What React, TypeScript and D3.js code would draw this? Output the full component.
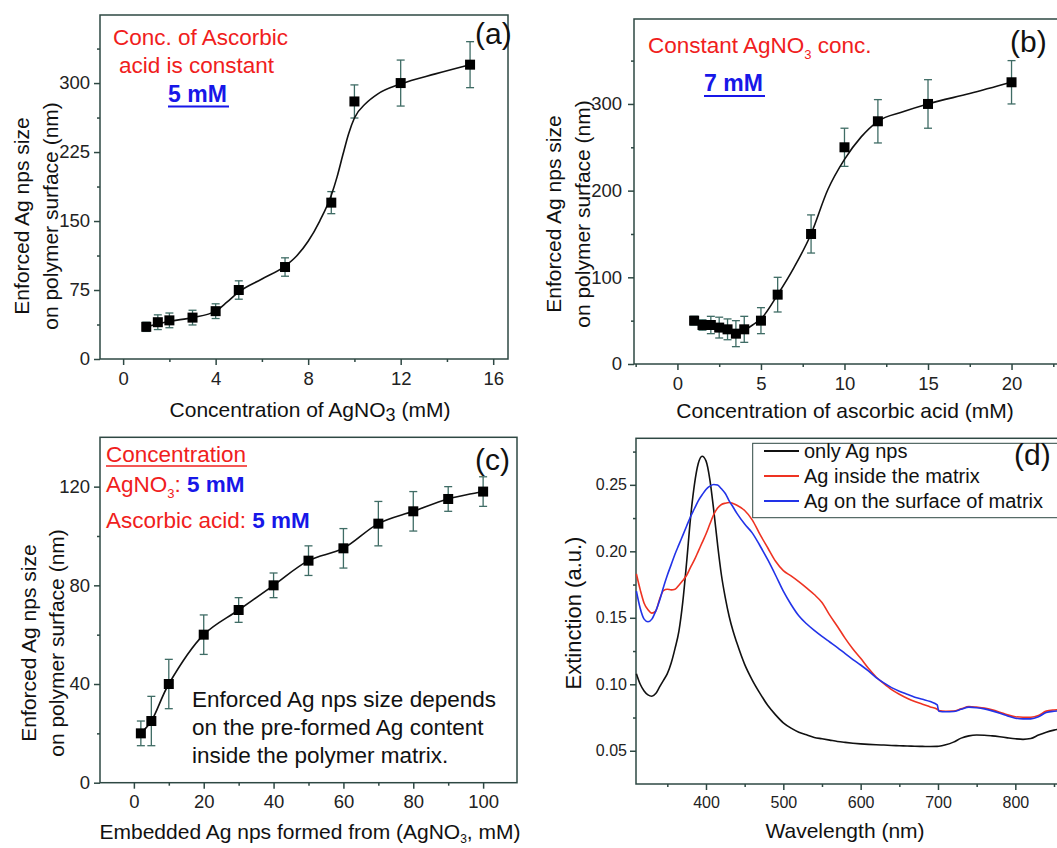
import React, { useRef, useEffect } from "react";
import * as d3 from "d3";

// (a) size vs AgNO3 concentration, ascorbic acid fixed
const agConc = [1, 1.5, 2, 3, 4, 5, 7, 9, 10, 12, 15];
const agSize = [35, 40, 42, 45, 52, 75, 100, 170, 280, 300, 320];
const agErr = [5, 8, 8, 8, 8, 10, 10, 12, 18, 25, 25];
const agFitX = [1, 2, 3, 4, 4.5, 5, 6, 7, 7.5, 8, 8.5, 9, 9.25, 9.5, 9.75, 10, 10.5, 11, 12, 13.5, 15];
const agFitY = [35, 41, 45, 52, 62, 73, 87, 101, 112, 128, 150, 178, 198, 222, 245, 262, 278, 288, 299, 310, 320];

// (b) size vs ascorbic acid concentration, AgNO3 fixed
const ascConc = [1, 1.5, 2, 2.5, 3, 3.5, 4, 5, 6, 8, 10, 12, 15, 20];
const ascSize = [50, 45, 45, 42, 40, 35, 40, 50, 80, 150, 250, 280, 300, 325];
const ascErr = [5, 6, 10, 12, 12, 15, 15, 15, 20, 22, 22, 25, 28, 25];
const ascFitX = [1, 2, 3, 3.5, 4, 4.5, 5, 6, 7, 8, 9, 10, 11, 12, 13.5, 15, 17.5, 20];
const ascFitY = [50, 45, 40, 37, 39, 45, 52, 80, 112, 150, 201, 236, 262, 280, 291, 300, 312, 325];

// (c) size vs embedded Ag content
const embConc = [2, 5, 10, 20, 30, 40, 50, 60, 70, 80, 90, 100];
const embSize = [20, 25, 40, 60, 70, 80, 90, 95, 105, 110, 115, 118];
const embErr = [5, 10, 10, 8, 5, 5, 6, 8, 9, 8, 5, 6];

// (d) extinction spectra
const wavelength = [310, 315, 320, 325, 330, 335, 340, 345, 350, 355, 360, 365, 370, 375, 380, 385, 390, 395, 400, 405, 410, 415, 420, 425, 430, 435, 440,
  450, 460, 470, 480, 490, 500, 510, 520, 530, 540, 550, 560, 570, 580, 590, 600, 610, 620, 630, 640, 650, 660, 670, 680, 690,
  699, 701, 710, 720, 730, 740, 750, 760, 770, 780, 790, 800, 810, 820, 830, 840, 850, 860, 870];
const extOnlyAg = [0.108, 0.100, 0.095, 0.092, 0.091, 0.093, 0.098, 0.103, 0.108, 0.116, 0.127, 0.140, 0.162, 0.192, 0.225, 0.250, 0.266, 0.2715, 0.268, 0.254, 0.231, 0.205, 0.182, 0.165, 0.151, 0.140, 0.131,
  0.115, 0.103, 0.093, 0.084, 0.077, 0.071, 0.067, 0.064, 0.062, 0.060, 0.059, 0.058, 0.057, 0.0563, 0.0557, 0.0552, 0.0548, 0.0545, 0.0543, 0.054, 0.0538, 0.0536, 0.0534, 0.0533, 0.0532,
  0.0533, 0.0534, 0.0545, 0.0565, 0.0595, 0.0612, 0.0618, 0.0617, 0.0612, 0.0605, 0.0597, 0.059, 0.0586, 0.0592, 0.0618, 0.064, 0.0655, 0.0665, 0.067];
const extInside = [0.183, 0.171, 0.161, 0.156, 0.1535, 0.155, 0.164, 0.1705, 0.1715, 0.171, 0.1715, 0.1745, 0.178, 0.182, 0.188, 0.1935, 0.200, 0.2065, 0.213, 0.2205, 0.2277, 0.2325, 0.2352, 0.2362, 0.2367, 0.236, 0.2347,
  0.2307, 0.2235, 0.2125, 0.2025, 0.1925, 0.1855, 0.1815, 0.1772, 0.1725, 0.1675, 0.1615, 0.152, 0.1435, 0.1345, 0.1265, 0.1195, 0.112, 0.1055, 0.1005, 0.096, 0.0925, 0.0895, 0.087, 0.085, 0.083,
  0.0812, 0.0803, 0.0797, 0.0798, 0.0815, 0.0833, 0.0828, 0.0821, 0.0808, 0.079, 0.077, 0.0756, 0.0752, 0.0752, 0.0765, 0.0798, 0.0807, 0.081, 0.081];
const extSurface = [0.170, 0.157, 0.149, 0.147, 0.149, 0.155, 0.163, 0.173, 0.182, 0.190, 0.198, 0.205, 0.212, 0.219, 0.226, 0.232, 0.238, 0.2425, 0.2465, 0.249, 0.2503, 0.2498, 0.247, 0.2435, 0.238, 0.2333, 0.2285,
  0.2205, 0.2137, 0.204, 0.1935, 0.182, 0.170, 0.160, 0.1515, 0.1455, 0.1405, 0.136, 0.1318, 0.1276, 0.123, 0.1186, 0.1145, 0.110, 0.105, 0.101, 0.0975, 0.0948, 0.0925, 0.0903, 0.0887, 0.087,
  0.0845, 0.0797, 0.0793, 0.0795, 0.0812, 0.0828, 0.0824, 0.0815, 0.080, 0.0782, 0.0762, 0.0745, 0.074, 0.074, 0.0755, 0.0788, 0.0797, 0.080, 0.080];
const legendNames = ["only Ag nps", "Ag inside the matrix", "Ag on the surface of matrix"];
const legendColors = ["#111111", "#ee3322", "#2233e8"];

const FONT = "'Liberation Sans', Arial, Helvetica, sans-serif";
const FRAME = "#2e4843";
const ERR = "#3f6c65";
const RED = "#f0201c";
const BLUE = "#1717e8";

function axes(g, x, y, o) {
  const yb = y.range()[0];
  const bot = g.append("g").attr("transform", `translate(0,${yb})`);
  bot.append("g").call(d3.axisBottom(x).tickValues(o.xMinor).tickSize(3).tickFormat(() => ""));
  bot.append("g").call(d3.axisBottom(x).tickValues(o.xMajor).tickSize(6).tickPadding(o.xPad).tickFormat(o.xFmt));
  const xl = x.range()[0];
  const left = g.append("g").attr("transform", `translate(${xl},0)`);
  left.append("g").call(d3.axisLeft(y).tickValues(o.yMinor).tickSize(3).tickFormat(() => ""));
  left.append("g").call(d3.axisLeft(y).tickValues(o.yMajor).tickSize(6).tickPadding(o.yPad).tickFormat(o.yFmt));
  g.selectAll(".domain").remove();
  g.selectAll(".tick line").attr("stroke", FRAME).attr("stroke-width", 1.5);
  g.selectAll(".tick text").attr("font-size", o.fs).attr("font-family", FONT).attr("fill", "#222");
  const [x0, x1] = x.range();
  const [y0, y1] = y.range();
  g.append("rect").attr("x", x0).attr("y", y1).attr("width", x1 - x0).attr("height", y0 - y1)
    .attr("fill", "none").attr("stroke", FRAME).attr("stroke-width", 1.5);
}

function points(g, x, y, xs, ys, errs, fitX, fitY) {
  const eb = g.append("g").attr("stroke", ERR).attr("stroke-width", 1.3);
  xs.forEach((v, i) => {
    const cx = x(v), top = y(ys[i] + errs[i]), bot = y(ys[i] - errs[i]);
    eb.append("line").attr("x1", cx).attr("x2", cx).attr("y1", top).attr("y2", bot);
    eb.append("line").attr("x1", cx - 4).attr("x2", cx + 4).attr("y1", top).attr("y2", top);
    eb.append("line").attr("x1", cx - 4).attr("x2", cx + 4).attr("y1", bot).attr("y2", bot);
  });
  const line = d3.line().x(d => x(d[0])).y(d => y(d[1])).curve(fitX ? d3.curveMonotoneX : d3.curveCatmullRom);
  const cx = fitX || xs;
  const cy = fitY || ys;
  g.append("path").datum(cx.map((v, i) => [v, cy[i]])).attr("d", line)
    .attr("fill", "none").attr("stroke", "#111").attr("stroke-width", 1.6);
  g.append("g").selectAll("rect").data(xs).join("rect")
    .attr("x", d => x(d) - 5).attr("y", (d, i) => y(ys[i]) - 5)
    .attr("width", 10).attr("height", 10).attr("fill", "#000");
}

function txt(g, x, y, size, opts = {}) {
  return g.append("text").attr("x", x).attr("y", y).attr("font-size", size)
    .attr("font-family", FONT).attr("fill", opts.fill || "#111")
    .attr("text-anchor", opts.anchor || "start")
    .attr("transform", opts.rot ? `rotate(-90,${x},${y})` : null);
}

const App = () => {
  const svgRef = useRef(null);
  useEffect(() => {
    const svg = d3.select(svgRef.current);
    svg.selectAll("*").remove();
    const fmtInt = d3.format("d");

    // ---------- (a)
    const ga = svg.append("g");
    const xa = d3.scaleLinear().domain([-1, 16.64]).range([100, 508]);
    const ya = d3.scaleLinear().domain([0, 374]).range([359, 15]);
    axes(ga, xa, ya, {
      xMajor: [0, 4, 8, 12, 16], xMinor: [2, 6, 10, 14], xPad: 7, xFmt: fmtInt,
      yMajor: [0, 75, 150, 225, 300], yMinor: [37.5, 112.5, 187.5, 262.5, 337.5], yPad: 4, yFmt: fmtInt, fs: 18.5,
    });
    points(ga, xa, ya, agConc, agSize, agErr, agFitX, agFitY);
    txt(ga, 113, 45, 22.5, { fill: RED }).text("Conc. of Ascorbic");
    txt(ga, 119, 73, 22.5, { fill: RED }).text("acid is constant");
    txt(ga, 168, 102, 23, { fill: BLUE }).attr("font-weight", "bold").text("5 mM");
    ga.append("line").attr("x1", 168).attr("x2", 229).attr("y1", 106.5).attr("y2", 106.5).attr("stroke", BLUE).attr("stroke-width", 2);
    txt(ga, 475, 44, 30).text("(a)");
    txt(ga, 29, 216, 21, { anchor: "middle", rot: true }).text("Enforced Ag nps size");
    txt(ga, 58, 216, 21, { anchor: "middle", rot: true }).text("on polymer surface (nm)");
    const ta = txt(ga, 310, 417, 21, { anchor: "middle" });
    ta.append("tspan").text("Concentration of AgNO");
    ta.append("tspan").attr("dy", 4).attr("font-size", 18).text("3");
    ta.append("tspan").attr("dy", -4).text(" (mM)");

    // ---------- (b)
    const gb = svg.append("g");
    const xb = d3.scaleLinear().domain([-2.6, 23.5]).range([634, 1070]);
    const yb = d3.scaleLinear().domain([0, 398]).range([364, 19]);
    axes(gb, xb, yb, {
      xMajor: [0, 5, 10, 15, 20], xMinor: [-2.5, 2.5, 7.5, 12.5, 17.5, 22.5], xPad: 7, xFmt: fmtInt,
      yMajor: [0, 100, 200, 300], yMinor: [50, 150, 250, 350], yPad: 6, yFmt: fmtInt, fs: 18.5,
    });
    points(gb, xb, yb, ascConc, ascSize, ascErr, ascFitX, ascFitY);
    const tb = txt(gb, 648, 53, 22.5, { fill: RED });
    tb.append("tspan").text("Constant AgNO");
    tb.append("tspan").attr("dy", 6).attr("font-size", 13).text("3");
    tb.append("tspan").attr("dy", -6).text(" conc.");
    txt(gb, 704, 91, 23, { fill: BLUE }).attr("font-weight", "bold").text("7 mM");
    gb.append("line").attr("x1", 704).attr("x2", 765).attr("y1", 96).attr("y2", 96).attr("stroke", BLUE).attr("stroke-width", 2);
    txt(gb, 1010, 52, 30).text("(b)");
    txt(gb, 561, 214, 21, { anchor: "middle", rot: true }).text("Enforced Ag nps size");
    txt(gb, 590, 214, 21, { anchor: "middle", rot: true }).text("on polymer surface (nm)");
    txt(gb, 845, 418, 21, { anchor: "middle" }).text("Concentration of ascorbic acid (mM)");

    // ---------- (c)
    const gc = svg.append("g");
    const xc = d3.scaleLinear().domain([-9.7, 109.7]).range([100, 517]);
    const yc = d3.scaleLinear().domain([0, 140]).range([782.7, 437.3]);
    axes(gc, xc, yc, {
      xMajor: [0, 20, 40, 60, 80, 100], xMinor: [10, 30, 50, 70, 90], xPad: 6, xFmt: fmtInt,
      yMajor: [0, 40, 80, 120], yMinor: [20, 60, 100], yPad: 4, yFmt: fmtInt, fs: 18.5,
    });
    points(gc, xc, yc, embConc, embSize, embErr, null, null);
    txt(gc, 106, 462, 22.5, { fill: RED }).text("Concentration");
    gc.append("line").attr("x1", 106).attr("x2", 247).attr("y1", 466).attr("y2", 466).attr("stroke", RED).attr("stroke-width", 1.5);
    const tc1 = txt(gc, 106, 492, 22.5, { fill: RED });
    tc1.append("tspan").text("AgNO");
    tc1.append("tspan").attr("dy", 6).attr("font-size", 13).text("3");
    tc1.append("tspan").attr("dy", -6).text(": ");
    tc1.append("tspan").attr("fill", BLUE).attr("font-weight", "bold").text("5 mM");
    const tc2 = txt(gc, 106, 528, 22.5, { fill: RED });
    tc2.append("tspan").text("Ascorbic acid: ");
    tc2.append("tspan").attr("fill", BLUE).attr("font-weight", "bold").text("5 mM");
    txt(gc, 192, 707, 22.5).text("Enforced Ag nps size depends");
    txt(gc, 192, 735, 22.5).text("on the pre-formed Ag content");
    txt(gc, 192, 763, 22.5).text("inside the polymer matrix.");
    txt(gc, 475, 470, 30).text("(c)");
    txt(gc, 36, 643, 21, { anchor: "middle", rot: true }).text("Enforced Ag nps size");
    txt(gc, 64, 643, 21, { anchor: "middle", rot: true }).text("on polymer surface (nm)");
    const tc3 = txt(gc, 310, 839, 21, { anchor: "middle" });
    tc3.append("tspan").text("Embedded Ag nps formed from (AgNO");
    tc3.append("tspan").attr("dy", 4).attr("font-size", 12).text("3");
    tc3.append("tspan").attr("dy", -4).text(", mM)");

    // ---------- (d)
    const gd = svg.append("g");
    const xd = d3.scaleLinear().domain([309.5, 870.7]).range([636, 1070]);
    const yd = d3.scaleLinear().domain([0.025, 0.285]).range([784, 438.3]);
    axes(gd, xd, yd, {
      xMajor: [400, 500, 600, 700, 800], xMinor: [350, 450, 550, 650, 750, 850], xPad: 7, xFmt: fmtInt,
      yMajor: [0.05, 0.1, 0.15, 0.2, 0.25], yMinor: [0.075, 0.125, 0.175, 0.225, 0.275], yPad: 3, yFmt: d3.format(".2f"), fs: 16,
    });
    const spec = d3.line().x(d => xd(d[0])).y(d => yd(d[1])).curve(d3.curveMonotoneX);
    [extOnlyAg, extInside, extSurface].forEach((s, k) => {
      gd.append("path").datum(wavelength.map((w, i) => [w, s[i]])).attr("d", spec)
        .attr("fill", "none").attr("stroke", legendColors[k]).attr("stroke-width", 1.6);
    });
    const lg = gd.append("g");
    lg.append("rect").attr("x", 752.7).attr("y", 443.3).attr("width", 330).attr("height", 74.4)
      .attr("fill", "#fff").attr("stroke", FRAME).attr("stroke-width", 1);
    legendNames.forEach((n, i) => {
      const ly = 451 + i * 25;
      lg.append("line").attr("x1", 764).attr("x2", 799).attr("y1", ly).attr("y2", ly)
        .attr("stroke", legendColors[i]).attr("stroke-width", 1.8);
      txt(lg, 804, ly + 7, 20).text(n);
    });
    txt(gd, 1014, 465, 30).text("(d)");
    txt(gd, 581, 613, 22, { anchor: "middle", rot: true }).text("Extinction (a.u.)");
    txt(gd, 845, 838, 21, { anchor: "middle" }).text("Wavelength (nm)");
  }, []);

  return (
    <svg ref={svgRef} width={1057} height={848}
      style={{ position: "absolute", left: 0, top: 0, background: "#fff" }} />
  );
};

export default App;
